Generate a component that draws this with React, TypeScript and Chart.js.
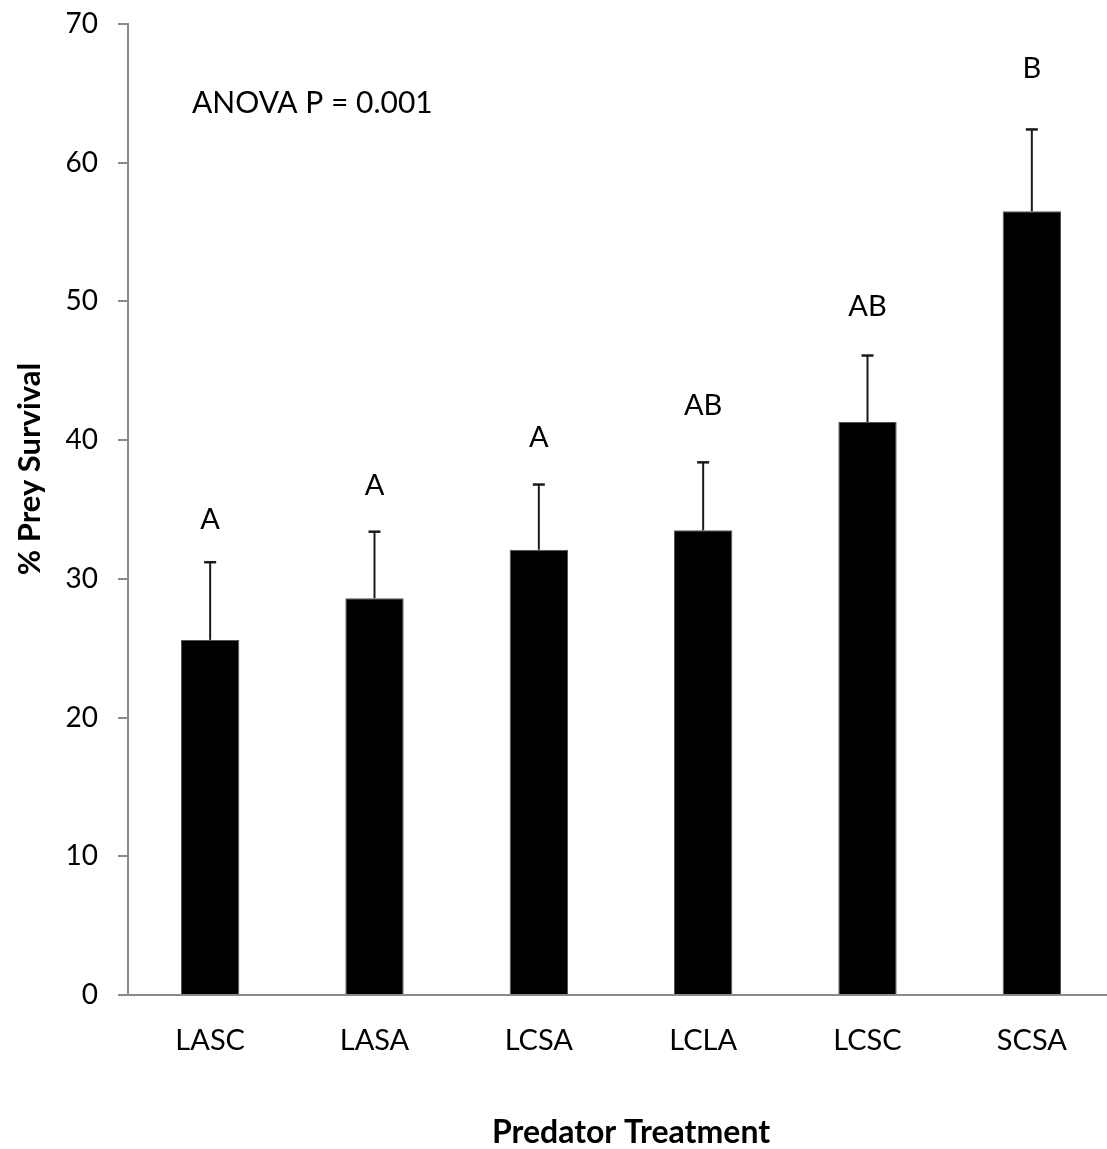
import React, { useEffect, useRef } from "react";
import { Chart, registerables } from "chart.js";

Chart.register(...registerables);

const categories = ["LASC", "LASA", "LCSA", "LCLA", "LCSC", "SCSA"];
const meanSurvival = [25.6, 28.6, 32.1, 33.5, 41.3, 56.5];
const errorUp = [5.6, 4.8, 4.7, 4.9, 4.8, 5.9];
const groupLetters = ["A", "A", "A", "AB", "AB", "B"];
const letterLevels = [34.3, 36.7, 40.2, 42.5, 49.6, 66.8];
const yTicks = [0, 10, 20, 30, 40, 50, 60, 70];

const FONT = "Lato, 'Open Sans', sans-serif";
const AXIS_GRAY = "#8a8a8a";
const CANVAS_W = 1114;
const CANVAS_H = 1149;

const overlayPlugin = {
  id: "overlay",
  afterDatasetsDraw(chart: any) {
    const ctx = chart.ctx;
    const x = chart.scales.x;
    const y = chart.scales.y;
    ctx.save();
    meanSurvival.forEach((v, i) => {
      const cx = x.getPixelForValue(i);
      const yb = y.getPixelForValue(v);
      const yt = y.getPixelForValue(v + errorUp[i]);
      ctx.strokeStyle = "#1a1a1a";
      ctx.lineWidth = 2;
      ctx.beginPath();
      ctx.moveTo(cx, yb);
      ctx.lineTo(cx, yt);
      ctx.stroke();
      ctx.lineWidth = 2.5;
      ctx.beginPath();
      ctx.moveTo(cx - 6, yt);
      ctx.lineTo(cx + 6, yt);
      ctx.stroke();
      ctx.fillStyle = "#000";
      ctx.font = `29px ${FONT}`;
      ctx.textAlign = "center";
      ctx.textBaseline = "middle";
      ctx.fillText(groupLetters[i], cx, y.getPixelForValue(letterLevels[i]));
    });
    ctx.textAlign = "left";
    ctx.font = `30px ${FONT}`;
    ctx.fillText("ANOVA P = 0.001", 192, 103);
    ctx.font = `bold 32px ${FONT}`;
    ctx.textAlign = "center";
    ctx.fillText("Predator Treatment", 631, 1133);
    ctx.translate(30, 469);
    ctx.rotate(-Math.PI / 2);
    ctx.font = `bold 31px ${FONT}`;
    ctx.fillText("% Prey Survival", 0, 0);
    ctx.restore();
  },
};

export default function App() {
  const ref = useRef<HTMLCanvasElement | null>(null);
  useEffect(() => {
    if (!ref.current) return;
    const chart = new Chart(ref.current, {
      type: "bar",
      data: {
        labels: categories,
        datasets: [
          {
            data: meanSurvival,
            backgroundColor: "#000000",
            borderColor: "#555555",
            borderWidth: 1,
            categoryPercentage: 1,
            barPercentage: 0.355,
          },
        ],
      },
      options: {
        animation: false,
        responsive: false,
        maintainAspectRatio: false,
        layout: { padding: { top: 24, left: 0, right: 0, bottom: 0 } },
        plugins: { legend: { display: false }, tooltip: { enabled: false } },
        scales: {
          x: {
            grid: { display: false },
            border: { display: true, color: AXIS_GRAY, width: 2 },
            ticks: {
              color: "#000",
              font: { family: FONT, size: 29 },
              padding: 20,
            },
            afterFit(scale: any) {
              scale.height = 154;
              scale.paddingLeft = 0;
              scale.paddingRight = 0;
            },
          },
          y: {
            min: 0,
            max: 70,
            afterBuildTicks(scale: any) {
              scale.ticks = yTicks.map((v) => ({ value: v }));
            },
            grid: {
              drawOnChartArea: false,
              drawTicks: true,
              tickLength: 10,
              color: AXIS_GRAY,
              lineWidth: 2,
            },
            border: { display: true, color: AXIS_GRAY, width: 2 },
            ticks: {
              color: "#000",
              font: { family: FONT, size: 28 },
              padding: 20,
            },
            afterFit(scale: any) {
              scale.width = 128;
              scale.paddingTop = 0;
              scale.paddingBottom = 0;
            },
          },
        },
      },
      plugins: [overlayPlugin],
    });
    return () => chart.destroy();
  }, []);
  return (
    <div style={{ position: "absolute", left: 0, top: 0, width: 1107, height: 1149, overflow: "hidden", background: "#fff" }}>
      <canvas ref={ref} width={CANVAS_W} height={CANVAS_H} style={{ width: CANVAS_W, height: CANVAS_H, display: "block" }} />
    </div>
  );
}
